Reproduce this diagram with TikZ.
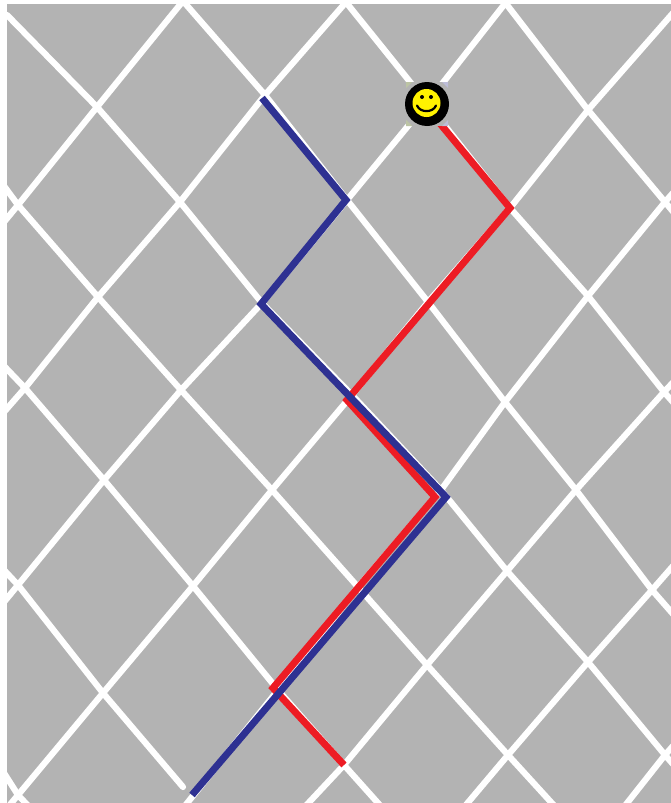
\documentclass[tikz,border=0pt]{standalone}
\definecolor{field}{HTML}{B3B3B3}
\definecolor{routeblue}{HTML}{2E3192}
\definecolor{routered}{HTML}{ED1C24}
\definecolor{face}{HTML}{FFF200}
\definecolor{tintL}{HTML}{BCC4A4}
\definecolor{tintR}{HTML}{BDBDD8}
\tikzset{
  road/.style={draw=white,line width=6.2pt,line cap=round,line join=round},
  route/.style={line width=7pt,line join=miter,miter limit=3},
}
\begin{document}
\begin{tikzpicture}[x=1pt,y=-1pt]
\useasboundingbox (0,0) rectangle (671,803);
\fill[white] (0,0) rectangle (671,803);
\fill[field] (7,4) rectangle (671,803);
\begin{scope}
\clip (7,4) rectangle (671,803);
% roads running down to the right
\draw[road] (7,15) -- (97,107) -- (180,202) -- (262,303) -- (352,395) -- (441,490) -- (507,571) -- (588,662) -- (665,755) -- (680,772);
\draw[road] (183,1) -- (265,95) -- (347,200) -- (428,302) -- (505,402) -- (576,490) -- (652,590) -- (680,622);
\draw[road] (345,1) -- (427,103) -- (510,208) -- (588,296) -- (664,392) -- (680,410);
\draw[road] (504,1) -- (588,110) -- (665,202) -- (680,220);
\draw[road] (4,186) -- (18,205) -- (98,297) -- (181,390) -- (272,490) -- (358,587) -- (427,665) -- (508,755) -- (560,812);
\draw[road] (4,366) -- (25,388) -- (104,480) -- (193,586) -- (278,690) -- (344,765) -- (386,812);
\draw[road] (4,570) -- (18,585) -- (103,693) -- (183,787);
\draw[road] (4,773) -- (18,795) -- (34,812);
% roads running up to the right
\draw[road] (4,222) -- (18,205) -- (97,107) -- (183,1);
\draw[road] (4,412) -- (25,388) -- (98,297) -- (180,202) -- (265,95) -- (347,1);
\draw[road] (4,602) -- (18,585) -- (104,480) -- (181,390) -- (262,303) -- (347,200) -- (427,103) -- (507,1);
\draw[road] (4,812) -- (18,795) -- (103,693) -- (193,586) -- (272,490) -- (352,395) -- (428,302) -- (510,208) -- (588,110) -- (680,5);
\draw[road] (180,812) -- (278,690) -- (358,587) -- (441,490) -- (505,402) -- (588,296) -- (665,202) -- (680,185);
\draw[road] (300,812) -- (344,765) -- (427,665) -- (507,571) -- (576,490) -- (664,392) -- (680,375);
\draw[road] (460,812) -- (508,755) -- (588,662) -- (652,590) -- (680,558);
\draw[road] (620,812) -- (665,755) -- (680,738);
\end{scope}
% route waypoints
\coordinate (r0) at (423,103);
\coordinate (r1) at (510,208);
\coordinate (r2) at (347,400);
\coordinate (r3) at (435,497);
\coordinate (r4) at (273,688);
\coordinate (r5) at (344,765);
\coordinate (b0) at (262,98);
\coordinate (b1) at (346,200);
\coordinate (b2) at (261,304);
\coordinate (b3) at (446,497);
\coordinate (b4) at (192,795);
\draw[route,routered] (r0) -- (r1) -- (r2) -- (r3) -- (r4) -- (r5);
\draw[route,routeblue] (b0) -- (b1) -- (b2) -- (b3) -- (b4);
% smiley
\fill[field] (406,82) rectangle (448,126);
\fill[tintL] (406,82) -- (412,82) -- (406,88) -- cycle;
\fill[tintL] (406,126) -- (412,126) -- (406,120) -- cycle;
\fill[tintR] (448,82) -- (442,82) -- (448,88) -- cycle;
\fill[tintR] (448,126) -- (442,126) -- (448,120) -- cycle;
\node[circle,fill=black,minimum size=44pt,inner sep=0pt,outer sep=0pt] (smiley) at (427,104) {};
\node[circle,fill=face,minimum size=28pt,inner sep=0pt,outer sep=0pt] (smileface) at (426.5,103) {};
\fill[black] (422,97) circle (2);
\fill[black] (431,97) circle (2);
\draw[black,line width=2.2pt,line cap=round] (417,105.5) .. controls (420,113) and (433,113) .. (436,105.5);
\end{tikzpicture}
\end{document}
